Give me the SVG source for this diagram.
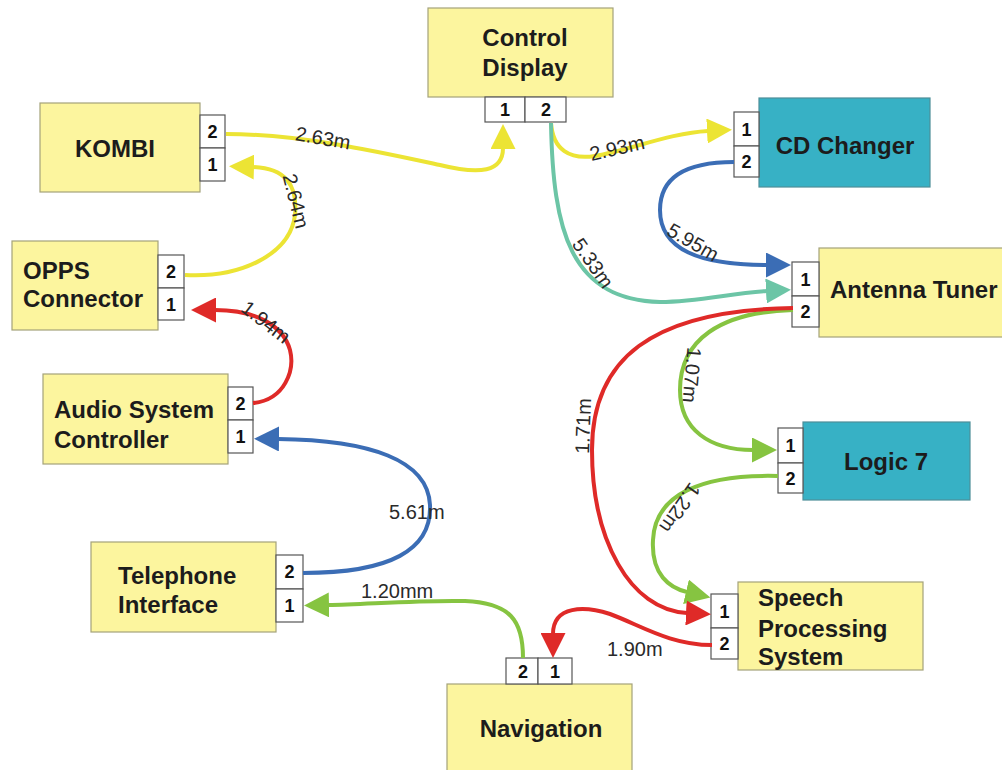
<svg xmlns="http://www.w3.org/2000/svg" width="1002" height="770" viewBox="0 0 1002 770">
<style>
.box{fill:#fcf59e;stroke:#a4a27a;stroke-width:1.2}
.tbox{fill:#37b1c5;stroke:#4d8e98;stroke-width:1.2}
.port{fill:#ffffff;stroke:#555;stroke-width:1.2}
.name{font-family:"Liberation Sans",Arial,sans-serif;font-weight:bold;font-size:24px;fill:#1c1c1c}
.pn{font-family:"Liberation Sans",Arial,sans-serif;font-weight:bold;font-size:18px;fill:#111;text-anchor:middle}
.lbl{font-family:"Liberation Sans",Arial,sans-serif;font-size:20px;fill:#2a2a2a}
.c{fill:none;stroke-width:4;stroke-linecap:butt}
.y{stroke:#ece434}.r{stroke:#df2a28}.b{stroke:#3b6db5}.g{stroke:#86c441}.t{stroke:#6cc5a6}
</style>
<defs>
<marker id="ay" markerUnits="userSpaceOnUse" viewBox="0 0 25 25" markerWidth="25" markerHeight="25" refX="1" refY="12.5" orient="auto"><path d="M0,0 L25,12.5 L0,25 Z" fill="#ece434"/></marker>
<marker id="ar" markerUnits="userSpaceOnUse" viewBox="0 0 25 25" markerWidth="25" markerHeight="25" refX="1" refY="12.5" orient="auto"><path d="M0,0 L25,12.5 L0,25 Z" fill="#df2a28"/></marker>
<marker id="ab" markerUnits="userSpaceOnUse" viewBox="0 0 25 25" markerWidth="25" markerHeight="25" refX="1" refY="12.5" orient="auto"><path d="M0,0 L25,12.5 L0,25 Z" fill="#3b6db5"/></marker>
<marker id="ag" markerUnits="userSpaceOnUse" viewBox="0 0 25 25" markerWidth="25" markerHeight="25" refX="1" refY="12.5" orient="auto"><path d="M0,0 L25,12.5 L0,25 Z" fill="#86c441"/></marker>
<marker id="at" markerUnits="userSpaceOnUse" viewBox="0 0 25 25" markerWidth="25" markerHeight="25" refX="1" refY="12.5" orient="auto"><path d="M0,0 L25,12.5 L0,25 Z" fill="#6cc5a6"/></marker>
</defs>
<rect width="1002" height="770" fill="#ffffff"/>

<g id="control-display">
<rect class="box" x="428" y="8" width="185" height="89"/>
<text class="name" x="525" y="46" text-anchor="middle">Control</text>
<text class="name" x="525" y="76" text-anchor="middle">Display</text>
<rect class="port" x="485" y="97" width="40" height="25"/>
<rect class="port" x="525" y="97" width="41" height="25"/>
<text class="pn" x="505" y="116">1</text>
<text class="pn" x="546" y="116">2</text>
</g>

<g id="kombi">
<rect class="box" x="40" y="103" width="160" height="89"/>
<text class="name" x="115" y="157" text-anchor="middle">KOMBI</text>
<rect class="port" x="200" y="115" width="25" height="33"/>
<rect class="port" x="200" y="148" width="25" height="33"/>
<text class="pn" x="212.5" y="138">2</text>
<text class="pn" x="212.5" y="171">1</text>
</g>

<g id="opps-connector">
<rect class="box" x="12" y="241" width="146" height="89"/>
<text class="name" x="23" y="279">OPPS</text>
<text class="name" x="23" y="307">Connector</text>
<rect class="port" x="158" y="255" width="26" height="33"/>
<rect class="port" x="158" y="288" width="26" height="32"/>
<text class="pn" x="171" y="278">2</text>
<text class="pn" x="171" y="311">1</text>
</g>

<g id="audio-system-controller">
<rect class="box" x="43" y="374" width="185" height="90"/>
<text class="name" x="54" y="418">Audio System</text>
<text class="name" x="54" y="448">Controller</text>
<rect class="port" x="228" y="387" width="25" height="33"/>
<rect class="port" x="228" y="420" width="25" height="33"/>
<text class="pn" x="240.5" y="410">2</text>
<text class="pn" x="240.5" y="443">1</text>
</g>

<g id="telephone-interface">
<rect class="box" x="91" y="542" width="185" height="90"/>
<text class="name" x="118" y="584">Telephone</text>
<text class="name" x="118" y="613">Interface</text>
<rect class="port" x="276" y="555" width="27" height="34"/>
<rect class="port" x="276" y="589" width="27" height="33"/>
<text class="pn" x="289.5" y="578">2</text>
<text class="pn" x="289.5" y="612">1</text>
</g>

<g id="navigation">
<rect class="box" x="447" y="684" width="185" height="92"/>
<text class="name" x="541" y="737" text-anchor="middle">Navigation</text>
<rect class="port" x="506" y="658" width="32" height="26"/>
<rect class="port" x="538" y="658" width="34" height="26"/>
<text class="pn" x="523" y="678">2</text>
<text class="pn" x="555" y="678">1</text>
</g>

<g id="cd-changer">
<rect class="tbox" x="759" y="98" width="171" height="89"/>
<text class="name" x="845" y="154" text-anchor="middle">CD Changer</text>
<rect class="port" x="734" y="112" width="25" height="34"/>
<rect class="port" x="734" y="146" width="25" height="31"/>
<text class="pn" x="746.5" y="136">1</text>
<text class="pn" x="746.5" y="168">2</text>
</g>

<g id="antenna-tuner">
<rect class="box" x="819" y="248" width="190" height="89"/>
<text class="name" x="830" y="298">Antenna Tuner</text>
<rect class="port" x="792" y="262" width="27" height="34"/>
<rect class="port" x="792" y="296" width="27" height="31"/>
<text class="pn" x="805.5" y="286">1</text>
<text class="pn" x="805.5" y="318">2</text>
</g>

<g id="logic-7">
<rect class="tbox" x="803" y="422" width="167" height="78"/>
<text class="name" x="886" y="470" text-anchor="middle">Logic 7</text>
<rect class="port" x="778" y="428" width="25" height="35"/>
<rect class="port" x="778" y="463" width="25" height="30"/>
<text class="pn" x="790.5" y="452">1</text>
<text class="pn" x="790.5" y="485">2</text>
</g>

<g id="speech-processing-system">
<rect class="box" x="738" y="582" width="185" height="88"/>
<text class="name" x="758" y="606">Speech</text>
<text class="name" x="758" y="637">Processing</text>
<text class="name" x="758" y="665">System</text>
<rect class="port" x="711" y="594" width="27" height="34"/>
<rect class="port" x="711" y="628" width="27" height="31"/>
<text class="pn" x="724.5" y="618">1</text>
<text class="pn" x="724.5" y="650">2</text>
</g>

<g id="connectors">
<path class="c y" d="M226,134 C300,134 380,152 440,165 C480,175 503,172 503,148" marker-end="url(#ay)"/>
<path class="c y" d="M185,275 C240,278 290,255 295,215 C298,185 285,168 253,167" marker-end="url(#ay)"/>
<path class="c r" d="M253,403 C285,400 295,370 290,350 C283,325 255,310 215,310" marker-end="url(#ar)"/>
<path class="c b" d="M303,573 C390,573 432,550 430,505 C428,460 370,440 278,439" marker-end="url(#ab)"/>
<path class="c g" d="M523,658 C523,620 510,603 465,601 C420,600 370,604 328,605" marker-end="url(#ag)"/>
<path class="c r" d="M712,645 C670,645 640,625 610,614 C585,606 553,605 553,634" marker-end="url(#ar)"/>
<path class="c y" d="M551,123 C553,150 570,160 595,156 C630,150 670,133 708,131" marker-end="url(#ay)"/>
<path class="c t" d="M551,123 C553,230 570,300 660,302 C700,302 730,293 767,291" marker-end="url(#at)"/>
<path class="c b" d="M734,162 C690,162 660,175 660,210 C660,250 700,265 767,265" marker-end="url(#ab)"/>
<path class="c g" d="M793,310 C720,312 680,340 680,390 C680,430 710,450 753,450" marker-end="url(#ag)"/>
<path class="c g" d="M778,476 C700,474 655,495 653,540 C651,575 670,588 687,592" marker-end="url(#ag)"/>
<path class="c r" d="M793,308 C650,310 592,360 592,450 C592,540 630,610 687,613" marker-end="url(#ar)"/>
</g>

<g id="labels">
<text class="lbl" x="323" y="138" dy="0.35em" text-anchor="middle" transform="rotate(10 323 138)">2.63m</text>
<text class="lbl" x="296" y="201" dy="0.35em" text-anchor="middle" transform="rotate(76 296 201)">2.64m</text>
<text class="lbl" x="266" y="322" dy="0.35em" text-anchor="middle" transform="rotate(38 266 322)">1.94m</text>
<text class="lbl" x="389" y="519">5.61m</text>
<text class="lbl" x="361" y="598">1.20mm</text>
<text class="lbl" x="607" y="656">1.90m</text>
<text class="lbl" x="617" y="148" dy="0.35em" text-anchor="middle" transform="rotate(-13 617 148)">2.93m</text>
<text class="lbl" x="593" y="263" dy="0.35em" text-anchor="middle" transform="rotate(55 593 263)">5.33m</text>
<text class="lbl" x="693" y="242" dy="0.35em" text-anchor="middle" transform="rotate(30 693 242)">5.95m</text>
<text class="lbl" x="692" y="375" dy="0.35em" text-anchor="middle" transform="rotate(95 692 375)">1.07m</text>
<text class="lbl" x="583" y="426" dy="0.35em" text-anchor="middle" transform="rotate(-88 583 426)">1.71m</text>
<text class="lbl" x="680" y="508" dy="0.35em" text-anchor="middle" transform="rotate(125 680 508)">1.22m</text>
</g>
</svg>
